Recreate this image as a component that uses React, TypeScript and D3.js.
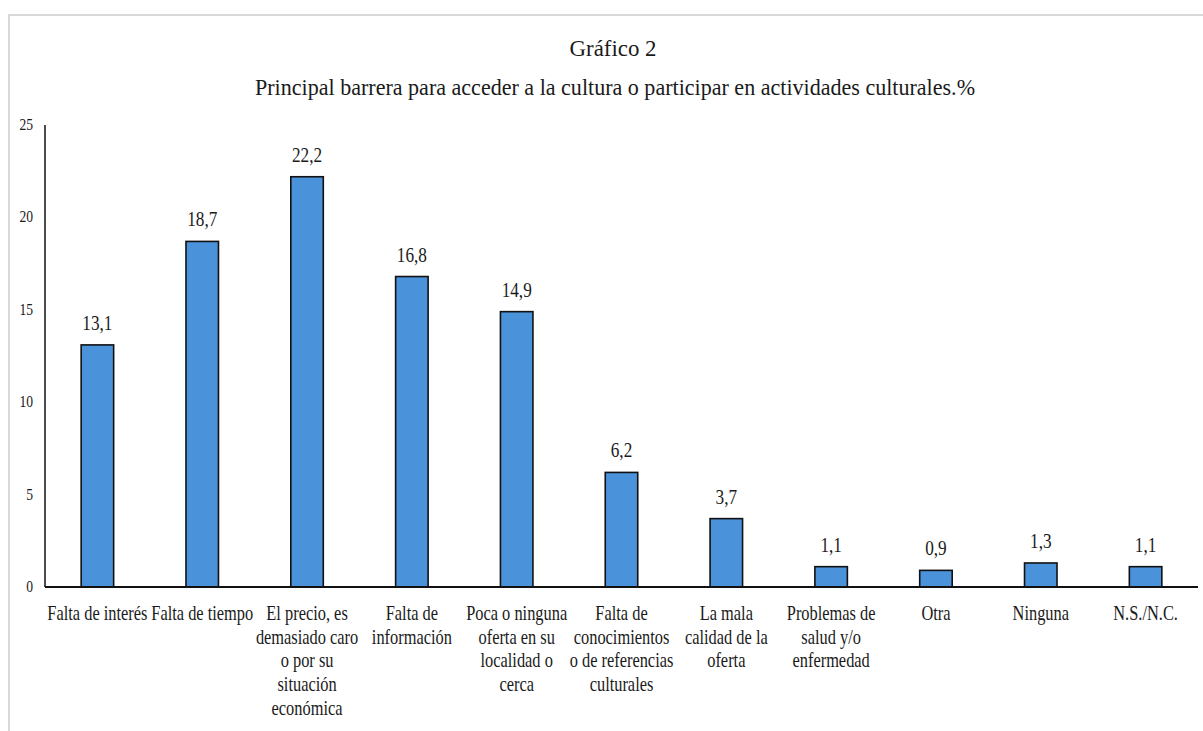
import React, { useRef, useEffect } from 'react';
import * as d3 from 'd3';

// --- DATA ---
const categories = [
  'Falta de interés',
  'Falta de tiempo',
  'El precio',
  'Falta de información',
  'Poca o ninguna oferta',
  'Falta de conocimientos',
  'La mala calidad',
  'Problemas de salud',
  'Otra',
  'Ninguna',
  'N.S./N.C.',
];

const categoryLines = [
  ['Falta de interés'],
  ['Falta de tiempo'],
  ['El precio, es', 'demasiado caro', 'o por su', 'situación', 'económica'],
  ['Falta de', 'información'],
  ['Poca o ninguna', 'oferta en su', 'localidad o', 'cerca'],
  ['Falta de', 'conocimientos', 'o de referencias', 'culturales'],
  ['La mala', 'calidad de la', 'oferta'],
  ['Problemas de', 'salud y/o', 'enfermedad'],
  ['Otra'],
  ['Ninguna'],
  ['N.S./N.C.'],
];

const values = [13.1, 18.7, 22.2, 16.8, 14.9, 6.2, 3.7, 1.1, 0.9, 1.3, 1.1];

const yTicks = [0, 5, 10, 15, 20, 25];

const title = 'Gráfico 2';
const subtitle = 'Principal barrera para acceder a la cultura o participar en actividades culturales.%';

const W = 1203;
const H = 731;

export default function App() {
  const svgRef = useRef<SVGSVGElement>(null);

  useEffect(() => {
    if (!svgRef.current) return;
    const svg = d3.select(svgRef.current);
    svg.selectAll('*').remove();

    const font = 'Liberation Serif, serif';
    const ink = '#1a1a1a';

    // plot area
    const left = 45;
    const right = 1198;
    const top = 125;
    const bottom = 587;

    const x = d3.scaleBand<string>()
      .domain(categories)
      .range([left, right])
      .paddingInner(0.69)
      .paddingOuter(0.345);

    const y = d3.scaleLinear().domain([0, 25]).range([bottom, top]);

    // outer frame (only top and left edges show)
    svg.append('path')
      .attr('d', `M9,${H} L9,15 L${W},15`)
      .attr('fill', 'none')
      .attr('stroke', '#d9d9d9')
      .attr('stroke-width', 2);

    // titles (the original type is tall and narrow)
    svg.append('text')
      .attr('x', 613)
      .attr('y', 56)
      .attr('text-anchor', 'middle')
      .attr('fill', ink)
      .attr('font-family', font)
      .attr('font-size', 24)
      .attr('textLength', 87)
      .attr('lengthAdjust', 'spacingAndGlyphs')
      .text(title);

    svg.append('text')
      .attr('x', 615)
      .attr('y', 95)
      .attr('text-anchor', 'middle')
      .attr('fill', ink)
      .attr('textLength', 720)
      .attr('lengthAdjust', 'spacingAndGlyphs')
      .attr('font-family', font)
      .attr('font-size', 24)
      .text(subtitle);

    // y tick labels (no tick marks)
    svg.append('g')
      .selectAll('text')
      .data(yTicks)
      .enter()
      .append('text')
      .attr('transform', d => `translate(33,${y(d) + 5}) scale(0.85,1)`)
      .attr('text-anchor', 'end')
      .attr('fill', ink)
      .attr('font-family', font)
      .attr('font-size', 16)
      .text(d => String(d));

    // bars
    svg.append('g')
      .selectAll('rect')
      .data(values)
      .enter()
      .append('rect')
      .attr('x', (d, i) => x(categories[i]) || 0)
      .attr('y', d => y(d))
      .attr('width', x.bandwidth())
      .attr('height', d => y(0) - y(d))
      .attr('fill', '#4a92d9')
      .attr('stroke', '#111')
      .attr('stroke-width', 1.6);

    // value labels
    svg.append('g')
      .selectAll('text')
      .data(values)
      .enter()
      .append('text')
      .attr('transform', (d, i) =>
        `translate(${(x(categories[i]) || 0) + x.bandwidth() / 2},${y(d) - 15}) scale(0.82,1)`)
      .attr('text-anchor', 'middle')
      .attr('fill', ink)
      .attr('font-family', font)
      .attr('font-size', 21)
      .text(d => d.toFixed(1).replace('.', ','));

    // axes lines
    svg.append('line')
      .attr('x1', left).attr('x2', left)
      .attr('y1', top).attr('y2', bottom)
      .attr('stroke', '#111')
      .attr('stroke-width', 1.5);

    svg.append('line')
      .attr('x1', left).attr('x2', right)
      .attr('y1', bottom).attr('y2', bottom)
      .attr('stroke', '#111')
      .attr('stroke-width', 2);

    // category labels, condensed like the original
    const catG = svg.append('g');
    categories.forEach((c, i) => {
      const cx = (x(c) || 0) + x.bandwidth() / 2;
      const t = catG.append('text')
        .attr('text-anchor', 'middle')
        .attr('fill', ink)
        .attr('font-family', font)
        .attr('font-size', 20)
        .attr('transform', `translate(${cx},0) scale(0.82,1)`);
      categoryLines[i].forEach((line, j) => {
        t.append('tspan')
          .attr('x', 0)
          .attr('y', 620 + j * 23.7)
          .text(line);
      });
    });
  }, []);

  return (
    <svg
      ref={svgRef}
      width={W}
      height={H}
      style={{ position: 'absolute', left: 0, top: 0, background: '#fff' }}
    />
  );
}
